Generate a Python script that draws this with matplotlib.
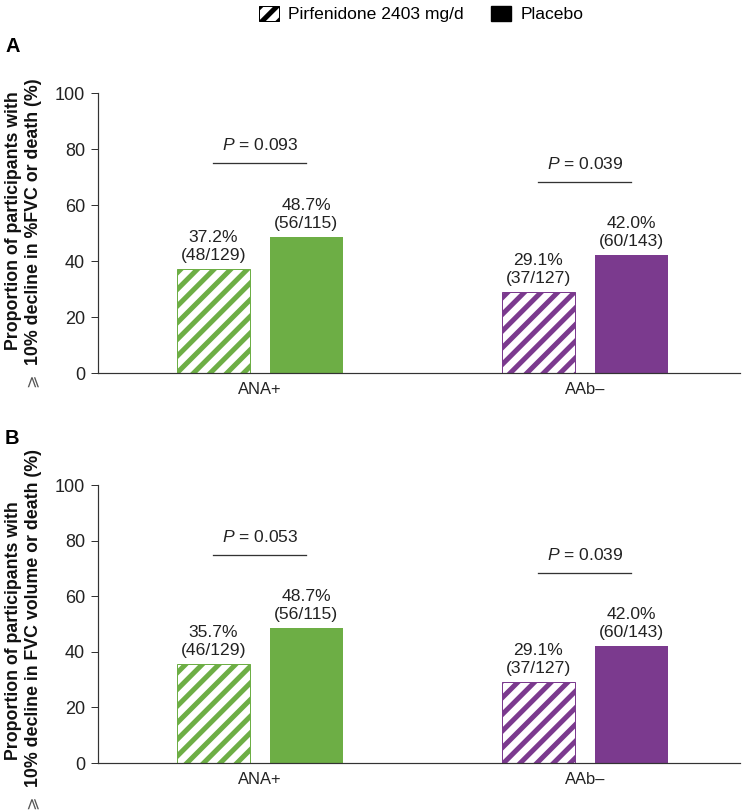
import matplotlib
matplotlib.use('Agg')
import matplotlib.pyplot as plt
from matplotlib.patches import Patch
import numpy as np

plt.rcParams['font.family'] = ['Liberation Sans', 'DejaVu Sans']
plt.rcParams['mathtext.fontset'] = 'custom'
plt.rcParams['mathtext.it'] = 'Liberation Sans:italic'
plt.rcParams['mathtext.rm'] = 'Liberation Sans'
plt.rcParams['hatch.linewidth'] = 3.6

groups = ['ANA+', 'AAb–']
colors = ['#6DAE45', '#7B3A8E']

pirf_a = [37.2, 29.1]
plac_a = [48.7, 42.0]
pirf_a_n = ['(48/129)', '(37/127)']
plac_a_n = ['(56/115)', '(60/143)']
p_a = ['0.093', '0.039']

pirf_b = [35.7, 29.1]
plac_b = [48.7, 42.0]
pirf_b_n = ['(46/129)', '(37/127)']
plac_b_n = ['(56/115)', '(60/143)']
p_b = ['0.053', '0.039']

line1 = 'Proportion of participants with'
line2_a = '10% decline in %FVC or death (%)'
line2_b = '10% decline in FVC volume or death (%)'

W, H = 749, 810
DPI = 100
fig = plt.figure(figsize=(W / DPI, H / DPI), dpi=DPI)


def pt(v):
    # pixels -> points
    return v * 72 / DPI


axis_col = '#333333'
txt_col = '#222222'
bw = 0.225
off = 0.143


def panel(rect, pirf, plac, pirf_n, plac_n, pvals):
    ax = fig.add_axes(rect)
    x = np.arange(len(groups))
    for i in range(len(groups)):
        ax.bar(x[i] - off, pirf[i], bw, facecolor='white', edgecolor=colors[i],
               hatch='//', linewidth=pt(1))
        ax.bar(x[i] + off, plac[i], bw, color=colors[i])
        ax.annotate('%.1f%%\n%s' % (pirf[i], pirf_n[i]), (x[i] - off, pirf[i]),
                    xytext=(0, pt(6)), textcoords='offset points', ha='center',
                    va='bottom', fontsize=pt(17.5), linespacing=1.25, color=txt_col)
        ax.annotate('%.1f%%\n%s' % (plac[i], plac_n[i]), (x[i] + off, plac[i]),
                    xytext=(0, pt(6)), textcoords='offset points', ha='center',
                    va='bottom', fontsize=pt(17.5), linespacing=1.25, color=txt_col)
        ytop = max(pirf[i], plac[i]) + 26.3
        ax.plot([x[i] - off, x[i] + off], [ytop, ytop], color=axis_col, lw=pt(1.3))
        ax.annotate('$P$ = ' + pvals[i], (x[i], ytop), xytext=(0, pt(18)),
                    textcoords='offset points', ha='center', va='center',
                    fontsize=pt(17.5), color=txt_col)
    ax.set_xlim(-0.498, 1.477)
    ax.set_ylim(0, 100)
    ax.set_yticks([0, 20, 40, 60, 80, 100])
    ax.set_xticks(x)
    ax.set_xticklabels(groups)
    ax.tick_params(axis='x', length=0, pad=pt(9), labelsize=pt(16.5),
                   labelcolor=txt_col)
    ax.tick_params(axis='y', length=pt(7), width=pt(1), color=axis_col,
                   pad=pt(6), labelsize=pt(18), labelcolor=txt_col)
    ax.spines['top'].set_visible(False)
    ax.spines['right'].set_visible(False)
    for s in ['left', 'bottom']:
        ax.spines[s].set_color(axis_col)
        ax.spines[s].set_linewidth(pt(1.2))
    return ax


ax_a = panel([98 / W, 1 - 373 / H, 642 / W, 280 / H], pirf_a, plac_a,
             pirf_a_n, plac_a_n, p_a)
ax_b = panel([98 / W, 1 - 763 / H, 642 / W, 278 / H], pirf_b, plac_b,
             pirf_b_n, plac_b_n, p_b)

# y-axis titles, one line at a time (anchored at their lower end)
for txt, xx, yy in [(line1, 13, 350), (line2_a, 33, 365),
                    (line1, 13, 760), (line2_b, 33, 787)]:
    fig.text(xx / W, 1 - yy / H, txt, rotation=90, rotation_mode='anchor',
             ha='left', va='center', fontsize=pt(17.8), fontweight='bold',
             color='#111111')
fig.text(32 / W, 1 - 380 / H, '⩾', rotation=90, ha='center', va='center',
         fontsize=pt(16), color='#555555', family=['DejaVu Sans'])
fig.text(32 / W, 1 - 802 / H, '⩾', rotation=90, ha='center', va='center',
         fontsize=pt(16), color='#555555', family=['DejaVu Sans'])

fig.text(5 / W, 1 - 46 / H, 'A', fontsize=pt(20), fontweight='bold', va='center')
fig.text(5 / W, 1 - 438 / H, 'B', fontsize=pt(20), fontweight='bold', va='center')

handles = [Patch(facecolor='white', edgecolor='black', hatch='//', linewidth=pt(1)),
           Patch(facecolor='black', edgecolor='black')]
fig.legend(handles, ['Pirfenidone 2403 mg/d', 'Placebo'], loc='center',
           bbox_to_anchor=(421 / W, 1 - 14 / H), ncol=2, frameon=False,
           fontsize=pt(17.5), handlelength=1.15, handleheight=1.0,
           handletextpad=0.5, columnspacing=1.6)

fig.savefig('out.png', dpi=DPI)
